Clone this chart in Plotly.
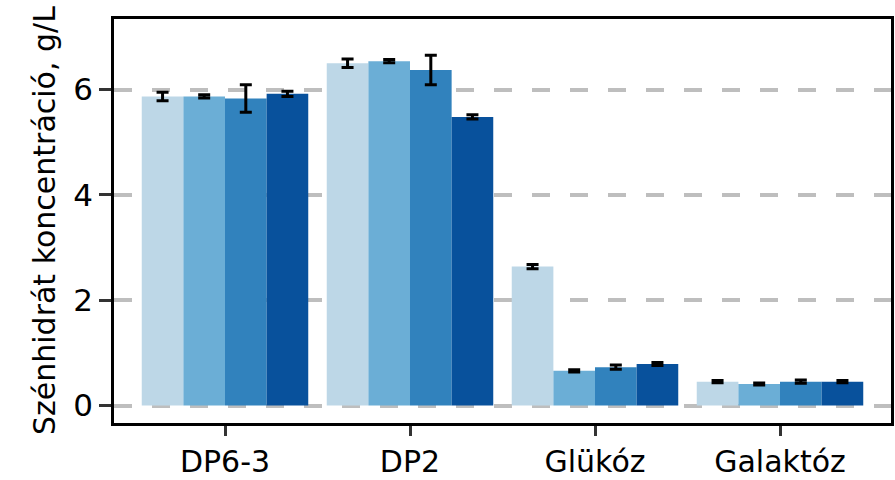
import plotly.graph_objects as go

categories = ["DP6-3", "DP2", "Glükóz", "Galaktóz"]
series_names = ["Minta 1", "Minta 2", "Minta 3", "Minta 4"]
values = [
    [5.87, 6.50, 2.64, 0.455],
    [5.87, 6.54, 0.66, 0.41],
    [5.83, 6.37, 0.73, 0.455],
    [5.92, 5.48, 0.79, 0.455],
]
errors = [
    [0.08, 0.08, 0.04, 0.02],
    [0.03, 0.03, 0.02, 0.02],
    [0.26, 0.28, 0.04, 0.03],
    [0.05, 0.04, 0.03, 0.02],
]
colors = ["#bdd7e7", "#6baed6", "#3182bd", "#08519c"]
y_ticks = [0, 2, 4, 6]
y_title = "Szénhidrát koncentráció, g/L"

FONT = "DejaVu Sans"

fig = go.Figure()
for name, vals, errs, col in zip(series_names, values, errors, colors):
    fig.add_trace(go.Bar(
        x=categories, y=vals, name=name,
        marker=dict(color=col, line=dict(width=0)),
        error_y=dict(type="data", array=errs, visible=True,
                     color="black", thickness=3, width=6),
        showlegend=False,
    ))

fig.update_layout(
    width=895, height=480,
    margin=dict(l=114, r=4, t=19, b=57, autoexpand=False),
    paper_bgcolor="white", plot_bgcolor="white",
    barmode="group", bargap=0.1, bargroupgap=0,
    font=dict(family=FONT, size=31, color="black"),
)
fig.update_xaxes(
    range=[-0.6, 3.6], showgrid=False, zeroline=False, automargin=False,
    showline=True, linecolor="black", linewidth=2.5, mirror=True,
    ticks="outside", ticklen=10, tickwidth=3, tickcolor="#333333",
    tickfont=dict(family=FONT, size=30, color="black"),
    ticklabelstandoff=0,
)
fig.update_yaxes(
    range=[-0.33, 7.34], tickvals=y_ticks, ticktext=[str(t) for t in y_ticks],
    showgrid=True, gridcolor="#bebebe", gridwidth=3.5, griddash="18px,20px",
    zeroline=False, automargin=False,
    showline=True, linecolor="black", linewidth=2.5, mirror=True,
    ticks="outside", ticklen=12, tickwidth=3, tickcolor="#333333",
    tickfont=dict(family=FONT, size=31, color="black"),
    ticklabelstandoff=0,
)
fig.add_annotation(
    text=y_title, textangle=-90, showarrow=False,
    xref="paper", yref="paper", x=0, y=0.5,
    xanchor="center", yanchor="middle", xshift=-70,
    font=dict(family=FONT, size=30, color="black"),
)

fig.write_html("out.html")
